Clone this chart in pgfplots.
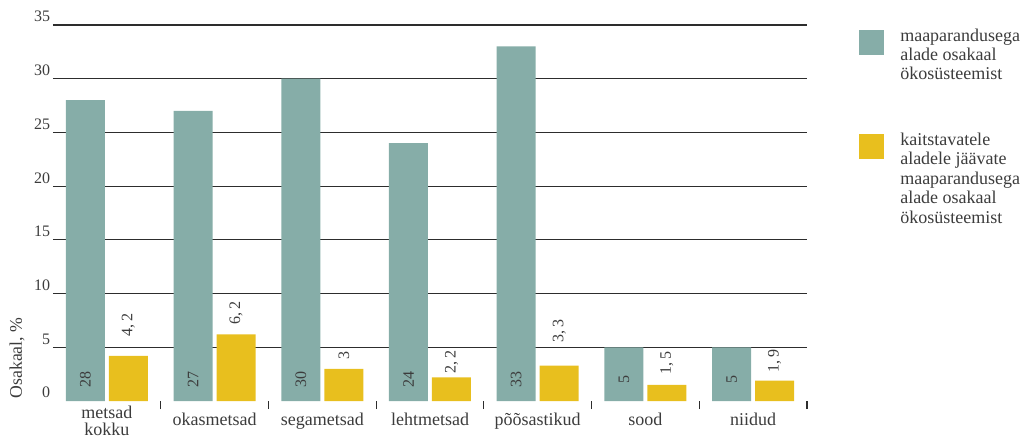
\documentclass[border=0pt]{standalone}
\usepackage{fontspec}
\setmainfont{Liberation Serif}
\usepackage{pgfplots}
\usepackage{pgfplotstable}
\pgfplotsset{compat=1.18}

\definecolor{sage}{RGB}{134,173,168}
\definecolor{mustard}{RGB}{232,191,30}
\definecolor{ink}{RGB}{60,60,60}
\definecolor{rule}{RGB}{45,45,45}

% two centred lines, hung around the common label baseline
\newcommand\twoline[2]{\raisebox{-7.5pt}{\vbox{\baselineskip=12.75pt\lineskiplimit=-20pt
  \halign{\hfil##\hfil\cr#1\cr#2\cr}}}}

% share of ecosystems with drainage systems (%)
\pgfplotstableread{
x y
0 28
1 27
2 30
3 24
4 33
5 5
6 5
}\drainedtable

% share of drained areas that fall within protected areas (%), label offset in pt
\pgfplotstableread{
x y off lab
0 4.2 14.25 4,\,2
1 6.2 7.5 6,\,2
2 3 6.75 3
3 2.2 3 2,\,2
4 3.3 17.25 3,\,3
5 1.5 7.5 1,\,5
6 1.9 6 1,\,9
}\protectedtable

\pgfplotsset{
  sq legend/.style={legend image code/.code={%
    \fill[##1,draw=none] (0pt,-1pt) rectangle (18.75pt,-19.75pt);}},
}

\begin{document}
\begin{tikzpicture}
\path[use as bounding box] (-39.75pt,-27pt) rectangle (729.75pt,300.75pt);
\begin{axis}[
  at={(0,0)}, anchor=south west,
  scale only axis, width=565.5pt, height=282pt,
  xmin=-0.5, xmax=6.5, ymin=0, ymax=35,
  enlargelimits=false, clip=false,
  ybar=3pt, bar width=29.25pt,
  axis line style={draw=none},
  xtick={0,...,6},
  xticklabels={{\twoline{metsad}{kokku}},
    okasmetsad,segametsad,lehtmetsad,põõsastikud,sood,niidud},
  xticklabel style={anchor=base, yshift=-18pt,
    font=\fontsize{13.5}{12.5}\selectfont, text=ink, inner sep=0pt},
  major tick length=0pt,
  major x tick style={draw=none},
  minor xtick={0.5,1.5,...,6.5},
  minor tick length=6pt,
  minor x tick style={draw=rule, line width=0.8pt},
  xtick pos=left, ytick pos=left,
  ytick={5,10,...,35},
  extra y ticks={0},
  extra y tick style={grid=none},
  ymajorgrids,
  major grid style={draw=rule, line width=0.9pt},
  major y tick style={draw=none},
  yticklabel style={anchor=south east, inner sep=2pt, font=\fontsize{12}{14}\selectfont, text=ink},
  /pgf/number format/assume math mode=true,
  legend style={draw=none, fill=none, at={(axis description cs:1,1)}, anchor=north west,
    xshift=39pt, yshift=-2.25pt, inner sep=0pt, row sep=38pt, column sep=12pt,
    font=\fontsize{13.5}{14.6}\selectfont, text=ink,
    nodes={inner sep=0pt},
    cells={anchor=north west, align=left}},
]
\addplot[fill=sage, draw=none, sq legend,
  point meta=y,
  visualization depends on={\thisrow{y} \as \val},
  nodes near coords,
  every node near coord/.append style={yshift=16.5pt-\val*8.05714pt, rotate=90, anchor=center,
    inner sep=0pt, font=\fontsize{12}{14}\selectfont, text=ink}]
  table[x=x, y=y] {\drainedtable};
\addlegendentry{maaparandusega\\alade osakaal\\ökosüsteemist}
\addplot[fill=mustard, draw=none, sq legend,
  point meta=explicit symbolic,
  visualization depends on={\thisrow{off} \as \off},
  nodes near coords,
  every node near coord/.append style={yshift=\off pt, rotate=90, anchor=west,
    inner sep=0pt, font=\fontsize{12}{14}\selectfont, text=ink}]
  table[x=x, y=y, meta=lab] {\protectedtable};
\addlegendentry{kaitstavatele\\aladele jäävate\\maaparandusega\\alade osakaal\\ökosüsteemist}
\end{axis}
\node[rotate=90, font=\fontsize{13.3}{15}\selectfont, text=ink] at (-27pt,32.25pt) {Osakaal, \%};
\end{tikzpicture}
\end{document}
